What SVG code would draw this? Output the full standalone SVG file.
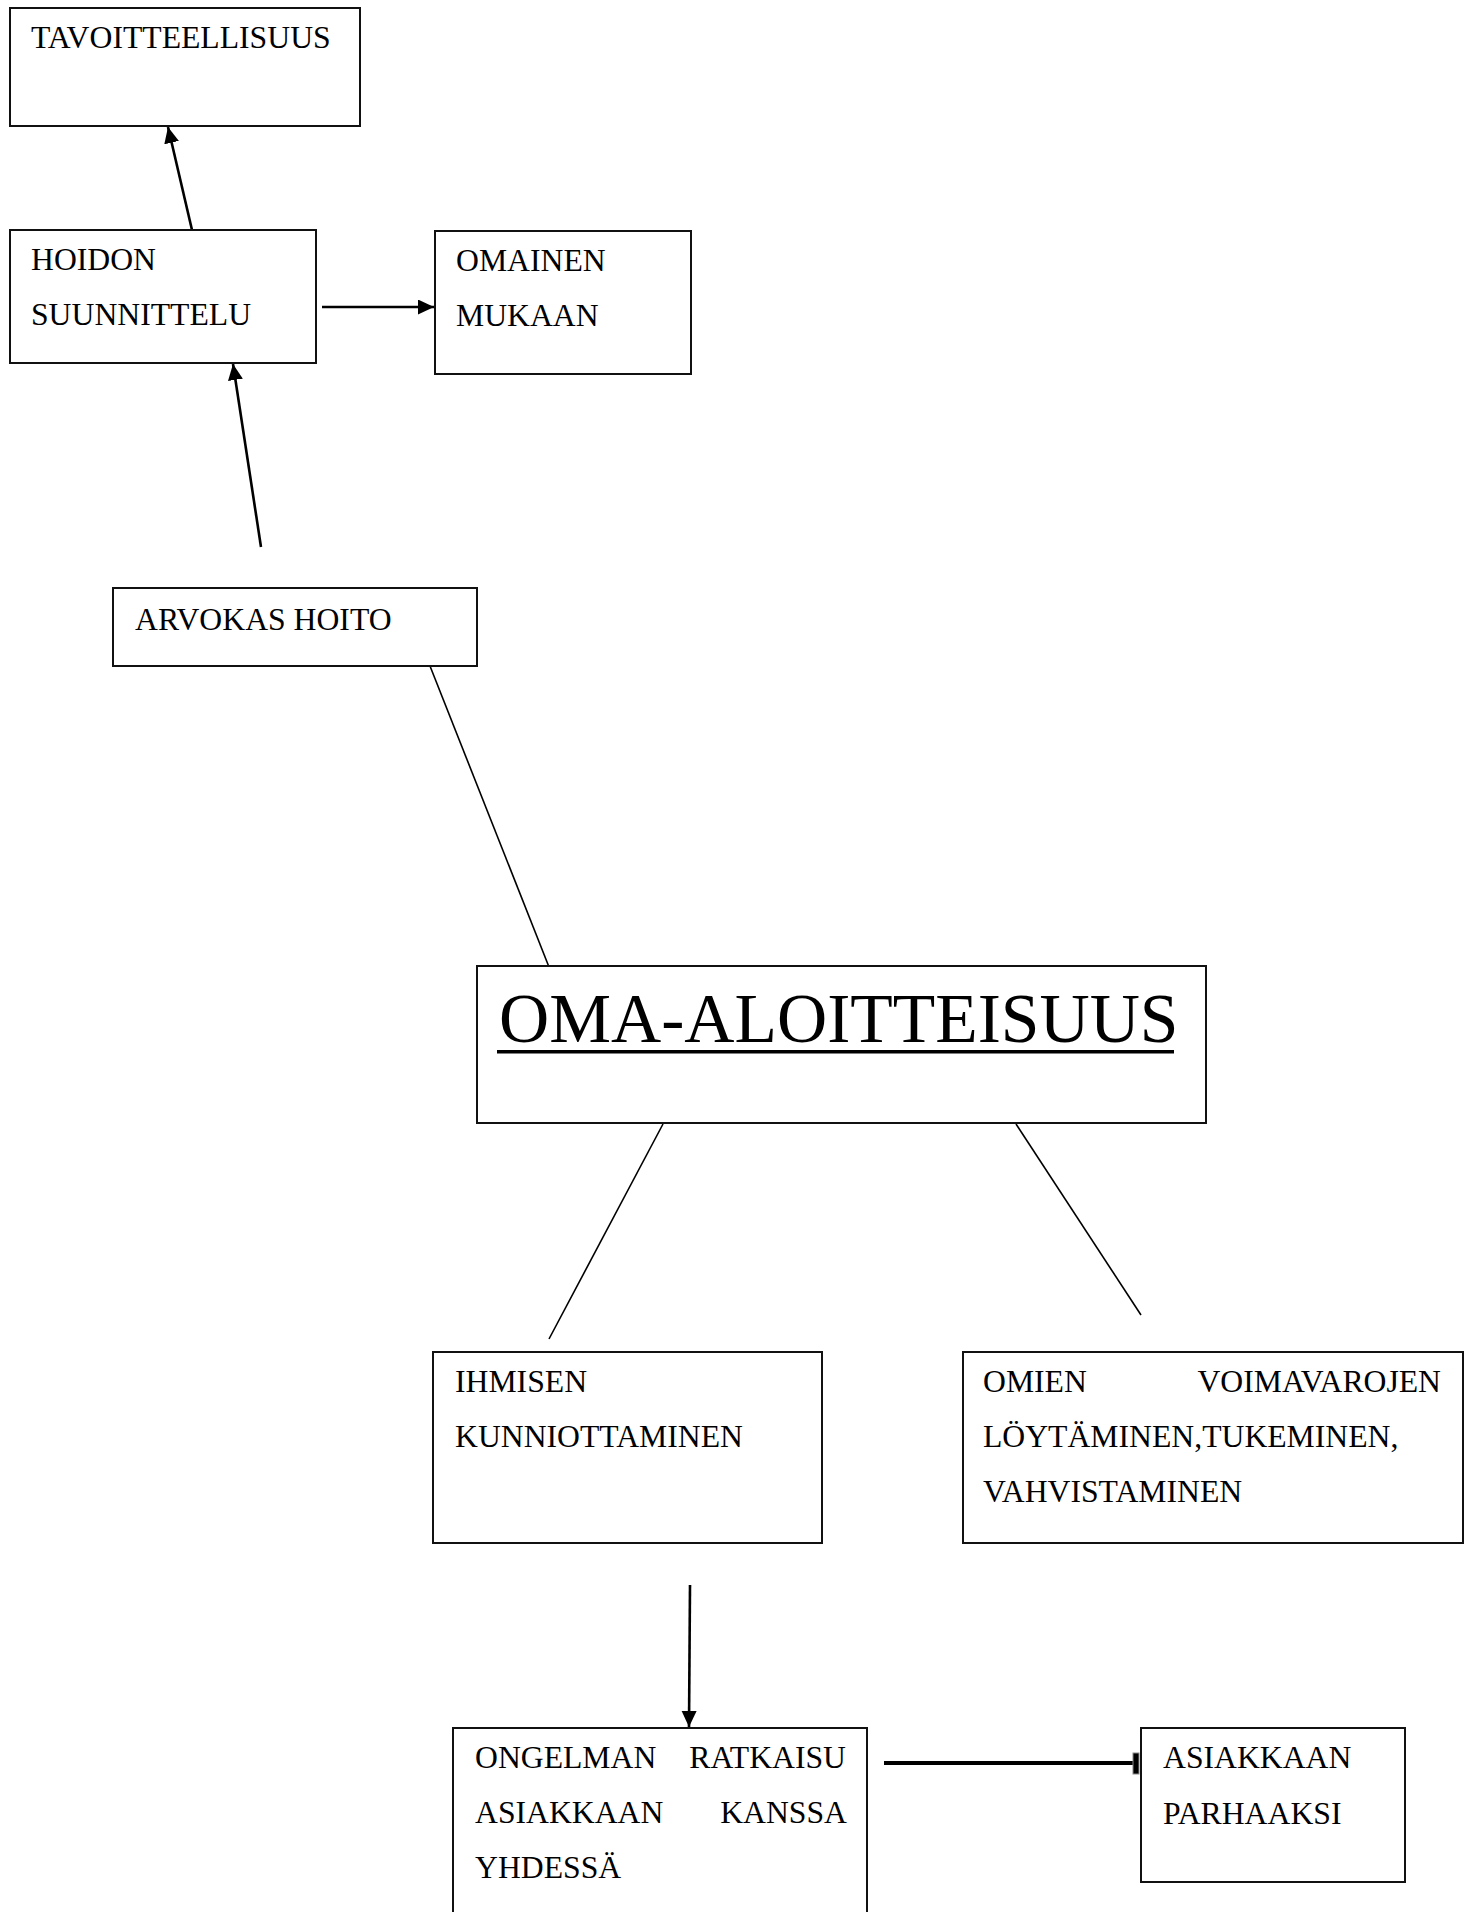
<svg xmlns="http://www.w3.org/2000/svg" width="1469" height="1912" viewBox="0 0 1469 1912">
<style>
.box{fill:#fff;stroke:#111;stroke-width:2}
.t{font-family:"Liberation Serif","Times New Roman",serif;font-size:31.7px;fill:#000}
.big{font-family:"Liberation Serif","Times New Roman",serif;font-size:69.5px;fill:#000}
.arr{stroke:#000;stroke-width:2.6;fill:none;marker-end:url(#ah)}
.ln{stroke:#000;stroke-width:1.6;fill:none}
</style>
<defs>
<marker id="ah" markerUnits="userSpaceOnUse" markerWidth="17" markerHeight="16" refX="16" refY="7.5" orient="auto">
<path d="M0,0 L16,7.5 L0,15 z" fill="#000"/>
</marker>
</defs>
<rect width="1469" height="1912" fill="#fff"/>
<g id="connectors">
<line class="arr" x1="192" y1="230" x2="168" y2="127"/>
<line class="arr" x1="322" y1="307" x2="434" y2="307"/>
<line class="arr" x1="261" y1="547" x2="233" y2="364"/>
<line class="ln" x1="430" y1="666" x2="549" y2="967"/>
<line class="ln" x1="663" y1="1124" x2="549" y2="1339"/>
<line class="ln" x1="1016" y1="1124" x2="1141" y2="1315"/>
<line class="arr" x1="690" y1="1585" x2="689" y2="1727"/>
<line stroke="#000" stroke-width="4" x1="884" y1="1763" x2="1137" y2="1763"/>
<rect x="1133" y="1753" width="6" height="21" fill="#000" stroke="#888" stroke-width="1"/>
</g>
<g id="n-tavoitteellisuus">
<rect class="box" x="10" y="8" width="350" height="118"/>
<text class="t" x="31" y="48">TAVOITTEELLISUUS</text>
</g>
<g id="n-hoidon">
<rect class="box" x="10" y="230" width="306" height="133"/>
<text class="t" x="31" y="270">HOIDON</text>
<text class="t" x="31" y="325">SUUNNITTELU</text>
</g>
<g id="n-omainen">
<rect class="box" x="435" y="231" width="256" height="143"/>
<text class="t" x="456" y="271">OMAINEN</text>
<text class="t" x="456" y="326">MUKAAN</text>
</g>
<g id="n-arvokas">
<rect class="box" x="113" y="588" width="364" height="78"/>
<text class="t" x="135" y="630">ARVOKAS HOITO</text>
</g>
<g id="n-oma">
<rect class="box" x="477" y="966" width="729" height="157"/>
<text class="big" x="499" y="1042">OMA-ALOITTEISUUS</text>
<rect x="497" y="1050" width="677" height="3.5" fill="#000"/>
</g>
<g id="n-ihmisen">
<rect class="box" x="433" y="1352" width="389" height="191"/>
<text class="t" x="455" y="1392">IHMISEN</text>
<text class="t" x="455" y="1447">KUNNIOTTAMINEN</text>
</g>
<g id="n-omien">
<rect class="box" x="963" y="1352" width="500" height="191"/>
<text class="t" x="983" y="1392">OMIEN</text>
<text class="t" x="1441" y="1392" text-anchor="end">VOIMAVAROJEN</text>
<text class="t" x="983" y="1447">LÖYTÄMINEN,TUKEMINEN,</text>
<text class="t" x="983" y="1502">VAHVISTAMINEN</text>
</g>
<g id="n-ongelman">
<rect class="box" x="453" y="1728" width="414" height="200"/>
<text class="t" x="475" y="1768">ONGELMAN</text>
<text class="t" x="846" y="1768" text-anchor="end">RATKAISU</text>
<text class="t" x="475" y="1823">ASIAKKAAN</text>
<text class="t" x="847" y="1823" text-anchor="end">KANSSA</text>
<text class="t" x="475" y="1878">YHDESSÄ</text>
</g>
<g id="n-asiakkaan">
<rect class="box" x="1141" y="1728" width="264" height="154"/>
<text class="t" x="1163" y="1768">ASIAKKAAN</text>
<text class="t" x="1163" y="1824">PARHAAKSI</text>
</g>
</svg>
